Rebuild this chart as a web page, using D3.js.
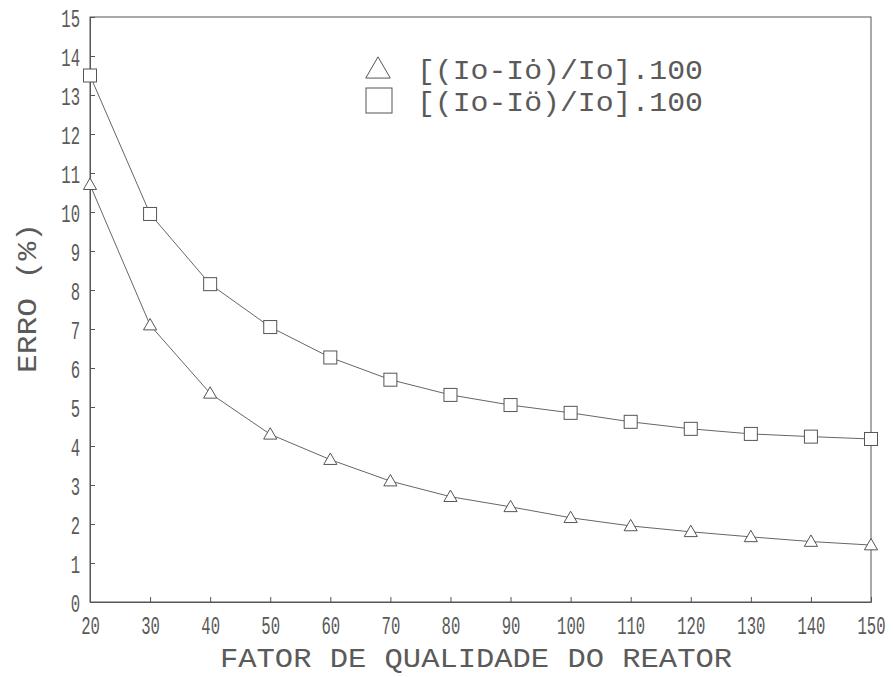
<!DOCTYPE html>
<html>
<head>
<meta charset="utf-8">
<script src="https://cdn.jsdelivr.net/npm/d3@7"></script>
<style>
html,body{margin:0;padding:0;background:#fff;}
svg{display:block;}
text{font-family:"Liberation Mono","DejaVu Sans Mono",monospace;fill:#5a5a5a;}
</style>
</head>
<body>
<svg id="chart" width="893" height="677"></svg>
<script>
const xValues = [20,30,40,50,60,70,80,90,100,110,120,130,140,150];
const triValues = [10.7,7.1,5.35,4.3,3.65,3.1,2.7,2.44,2.16,1.95,1.80,1.67,1.55,1.46];
const sqValues = [13.5,9.95,8.15,7.05,6.27,5.7,5.31,5.05,4.85,4.62,4.44,4.31,4.24,4.18];
const xTicks = [20,30,40,50,60,70,80,90,100,110,120,130,140,150];
const yTicks = [0,1,2,3,4,5,6,7,8,9,10,11,12,13,14,15];
const legendLabels = ["[(Io-Io\u0307)/Io].100","[(Io-Io\u0308)/Io].100"];
const xTitle = "FATOR DE QUALIDADE DO REATOR";
const yTitle = "ERRO (%)";

const svg = d3.select("#chart");
const m = {left:90, right:22, top:17, bottom:75};
const W = 893, H = 677;
const x = d3.scaleLinear().domain([20,150]).range([m.left, W-m.right]);
const y = d3.scaleLinear().domain([0,15]).range([H-m.bottom, m.top]);
const ink = "#555";
const sx = 0.6;

// frame
svg.append("rect").attr("x",x(20)).attr("y",y(15))
  .attr("width",x(150)-x(20)).attr("height",y(0)-y(15))
  .attr("fill","none").attr("stroke",ink).attr("stroke-width",1);

// axes
const xAxis = svg.append("g").attr("transform",`translate(0,${y(0)})`)
  .call(d3.axisBottom(x).tickValues(xTicks).tickSizeInner(-5).tickSizeOuter(0));
const yAxis = svg.append("g").attr("transform",`translate(${x(20)},0)`)
  .call(d3.axisLeft(y).tickValues(yTicks).tickSizeInner(-5).tickSizeOuter(0));
[xAxis,yAxis].forEach(g=>{
  g.select(".domain").attr("stroke",ink);
  g.selectAll(".tick line").attr("stroke",ink);
  g.selectAll(".tick text").attr("font-size",26).attr("fill","#5a5a5a");
});
xAxis.selectAll(".tick text").attr("x",0).attr("y",32).attr("dy",null)
  .attr("transform",`scale(${sx},1)`);
yAxis.selectAll(".tick text").attr("x",-10/sx).attr("y",0).attr("dy","0.36em")
  .attr("transform",`scale(${sx},1)`);

// titles
svg.append("text").attr("x",476).attr("y",667).attr("text-anchor","middle")
  .attr("font-size",27).attr("textLength",512).attr("lengthAdjust","spacingAndGlyphs")
  .text(xTitle);
svg.append("text").attr("transform","translate(36,298) rotate(-90)").attr("text-anchor","middle")
  .attr("font-size",27).attr("textLength",150).attr("lengthAdjust","spacingAndGlyphs")
  .text(yTitle);

// lines
const line = d3.line().x(d=>x(d[0])).y(d=>y(d[1]));
const triData = xValues.map((v,i)=>[v,triValues[i]]);
const sqData = xValues.map((v,i)=>[v,sqValues[i]]);
[triData,sqData].forEach(d=>{
  svg.append("path").datum(d).attr("d",line).attr("fill","none")
    .attr("stroke","#666").attr("stroke-width",1);
});

// markers
const triSym = d3.symbol().type(d3.symbolTriangle);
svg.selectAll(".tri").data(triData).join("path").attr("class","tri")
  .attr("d",triSym.size(75)).attr("transform",d=>`translate(${x(d[0])},${y(d[1])+1})`)
  .attr("fill","#fff").attr("stroke",ink).attr("stroke-width",1);
svg.selectAll(".sq").data(sqData).join("rect").attr("class","sq")
  .attr("x",d=>x(d[0])-6.5).attr("y",d=>y(d[1])-6.5).attr("width",13).attr("height",13)
  .attr("fill","#fff").attr("stroke",ink).attr("stroke-width",1);

// legend
const lg = svg.append("g");
lg.append("path").attr("d",d3.symbol().type(d3.symbolTriangle).size(260)())
  .attr("transform","translate(378,71)").attr("fill","#fff").attr("stroke",ink).attr("stroke-width",1);
lg.append("rect").attr("x",366).attr("y",88).attr("width",26).attr("height",25)
  .attr("fill","#fff").attr("stroke",ink).attr("stroke-width",1);
legendLabels.forEach((t,i)=>{
  lg.append("text").attr("x",417).attr("y",[69,101][i]).attr("dy","0.36em")
    .attr("font-size",27).attr("textLength",286).attr("lengthAdjust","spacingAndGlyphs")
    .text(t);
});
</script>
</body>
</html>
